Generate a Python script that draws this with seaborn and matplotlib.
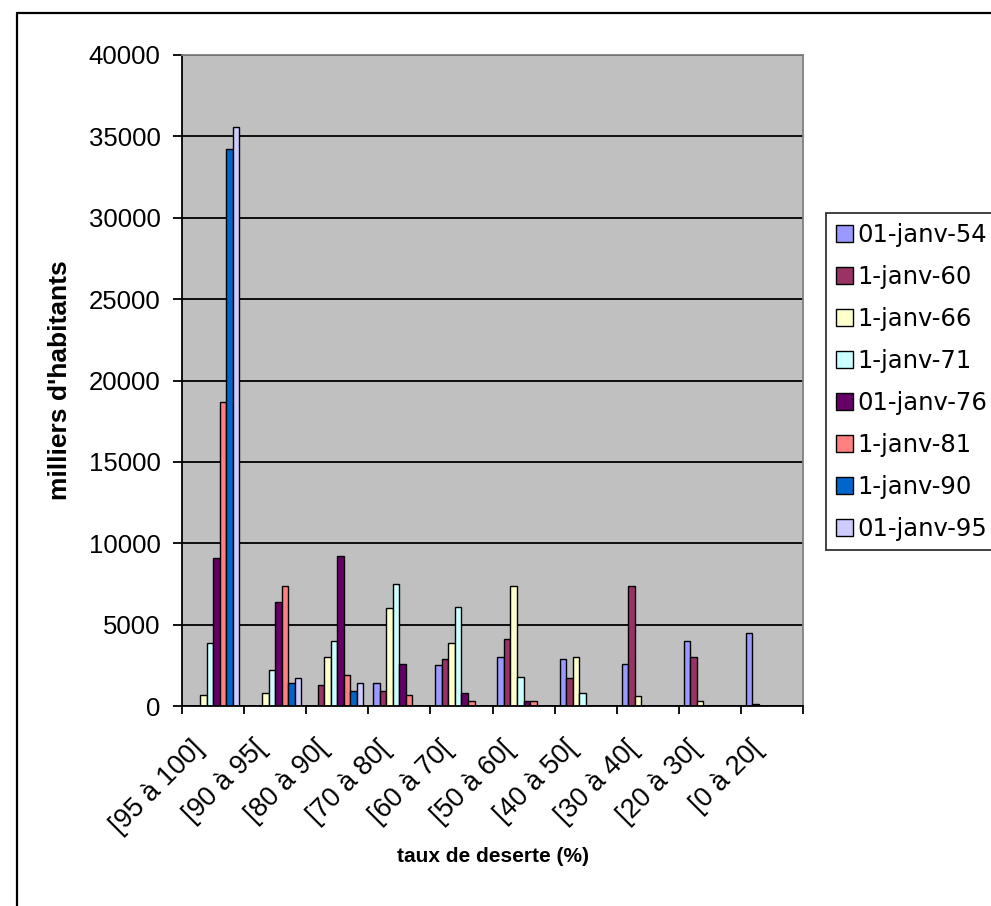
import matplotlib
matplotlib.use("Agg")
import matplotlib.pyplot as plt
from matplotlib.lines import Line2D
from matplotlib.ticker import FixedLocator, NullFormatter
from matplotlib.transforms import ScaledTranslation
import seaborn as sns
import pandas as pd

# Coverage-rate classes (x categories)
classes = ["[95 à 100]", "[90 à 95[", "[80 à 90[", "[70 à 80[", "[60 à 70[",
           "[50 à 60[", "[40 à 50[", "[30 à 40[", "[20 à 30[", "[0 à 20["]

# Census dates (series)
dates = ["01-janv-54", "1-janv-60", "1-janv-66", "1-janv-71",
         "01-janv-76", "1-janv-81", "1-janv-90", "01-janv-95"]

# Population per class, thousands of inhabitants
pop_54 = [0, 0, 0, 1400, 2500, 3000, 2900, 2600, 4000, 4500]
pop_60 = [0, 0, 1300, 900, 2900, 4100, 1700, 7400, 3000, 150]
pop_66 = [700, 800, 3000, 6000, 3900, 7400, 3000, 600, 300, 0]
pop_71 = [3900, 2200, 4000, 7500, 6100, 1800, 800, 0, 0, 0]
pop_76 = [9100, 6400, 9200, 2600, 800, 300, 0, 0, 0, 0]
pop_81 = [18700, 7400, 1900, 700, 300, 300, 0, 0, 0, 0]
pop_90 = [34200, 1400, 900, 0, 0, 0, 0, 0, 0, 0]
pop_95 = [35600, 1700, 1400, 0, 0, 0, 0, 0, 0, 0]

series = [pop_54, pop_60, pop_66, pop_71, pop_76, pop_81, pop_90, pop_95]
palette = ["#9999FF", "#993366", "#FFFFCC", "#CCFFFF",
           "#660066", "#FF8080", "#0066CC", "#CCCCFF"]

df = pd.DataFrame(
    [(c, d, v) for d, vals in zip(dates, series) for c, v in zip(classes, vals)],
    columns=["classe", "date", "valeur"],
)

sns.set_theme(style="white")
plt.rcParams["font.family"] = ["Liberation Sans", "DejaVu Sans"]
plt.rcParams.update({"text.color": "black", "axes.labelcolor": "black",
                     "xtick.color": "black", "ytick.color": "black"})

W, H = 991, 906
fig = plt.figure(figsize=(W / 100, H / 100), dpi=100)
fig.patch.set_facecolor("white")

left, right, top, bottom = 182, 803, 55, 706
ax = fig.add_axes([left / W, 1 - bottom / H, (right - left) / W, (bottom - top) / H])
ax.set_facecolor("#C0C0C0")

sns.barplot(
    data=df, x="classe", y="valeur", hue="date", order=classes, hue_order=dates,
    palette=palette, width=8 / 9.5, gap=0, edgecolor="black", linewidth=1.0,
    saturation=1, errorbar=None, ax=ax,
)

ax.set_ylim(0, 40000)
ax.set_xlim(-0.5, len(classes) - 0.5)
ax.set_yticks(range(0, 40001, 5000))
ax.yaxis.grid(True, color="black", linewidth=1.3)
ax.set_axisbelow(True)

# Tick marks sit on class boundaries, labels at class centres
ax.tick_params(axis="x", which="major", length=0, labelsize=19.5, pad=28)
ax.xaxis.set_minor_locator(FixedLocator([i - 0.5 for i in range(len(classes) + 1)]))
ax.xaxis.set_minor_formatter(NullFormatter())
ax.tick_params(axis="x", which="minor", direction="out", length=6, width=1.3,
               color="black", bottom=True)
ax.tick_params(axis="y", direction="out", length=6.5, width=1.3, color="black",
               left=True, labelsize=18.5, pad=9)
shift = ScaledTranslation(-0.13, 0, fig.dpi_scale_trans)
for lab in ax.get_xticklabels():
    lab.set_rotation(45)
    lab.set_ha("right")
    lab.set_va("center")
    lab.set_rotation_mode("anchor")
    lab.set_transform(lab.get_transform() + shift)

for s in ("left", "bottom"):
    ax.spines[s].set_color("black")
    ax.spines[s].set_linewidth(1.3)
for s in ("top", "right"):
    ax.spines[s].set_color("#808080")
    ax.spines[s].set_linewidth(1.3)

ax.set_xlabel("taux de deserte (%)", fontsize=15, fontweight="bold", labelpad=6)
ax.set_ylabel("milliers d'habitants", fontsize=19, fontweight="bold", labelpad=12)

handles, labels = ax.get_legend_handles_labels()
leg = ax.legend(
    handles, labels, loc="upper left", bbox_to_anchor=(826 / W, 1 - 213 / H),
    bbox_transform=fig.transFigure, frameon=True, fancybox=False,
    prop={"family": "DejaVu Sans", "size": 17.5}, handlelength=0.7, handleheight=0.7,
    handletextpad=0.2, labelspacing=0.74, borderpad=0.4, borderaxespad=0,
)
leg.get_frame().set_edgecolor("black")
leg.get_frame().set_linewidth(1.3)
for h in leg.legend_handles:
    h.set_edgecolor("black")
    h.set_linewidth(1.0)

# Chart-area border
fig.add_artist(Line2D([17 / W, 1.0], [1 - 13 / H, 1 - 13 / H], color="black",
                      linewidth=1.6, transform=fig.transFigure))
fig.add_artist(Line2D([17 / W, 17 / W], [0, 1 - 13 / H], color="black",
                      linewidth=1.6, transform=fig.transFigure))

fig.savefig("out.png", dpi=100)
